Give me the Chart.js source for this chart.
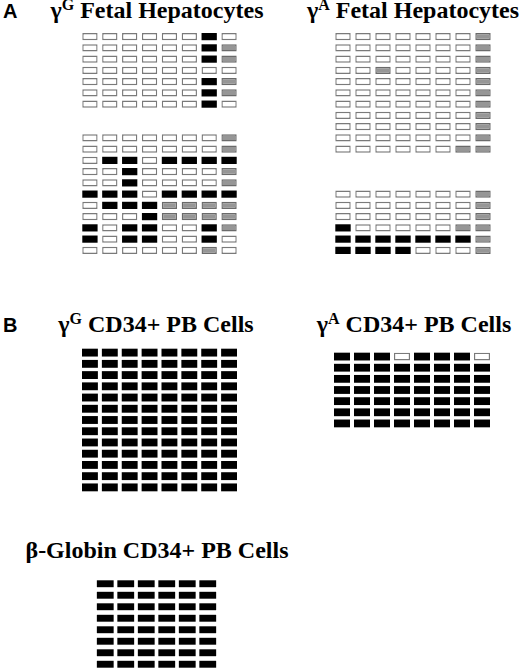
<!DOCTYPE html>
<html>
<head>
<meta charset="utf-8">
<script src="https://cdn.jsdelivr.net/npm/chart.js@4.4.1/dist/chart.umd.min.js"></script>
<style>
  html, body { margin: 0; padding: 0; background: #fff; }
  #fig { position: relative; width: 520px; height: 670px; overflow: hidden; }
  .panel { position: absolute; font-family: "Liberation Sans", Arial, sans-serif; font-weight: bold; font-size: 20px; line-height: 20px; }
  .ttl { position: absolute; width: 320px; text-align: center; font-family: "Liberation Serif", "Times New Roman", serif; font-weight: bold; font-size: 24px; line-height: 24px; white-space: nowrap; }
  .ttl sup { font-size: 16px; vertical-align: 0; position: relative; top: -8px; }
  canvas { position: absolute; }
</style>
</head>
<body>
<div id="fig">
  <div class="panel" style="left:3px;top:1px;">A</div>
  <div class="panel" style="left:3px;top:315px;">B</div>
  <div class="ttl" style="left:-3px;top:-2px;">γ<sup>G</sup> Fetal Hepatocytes</div>
  <div class="ttl" style="left:253px;top:-2px;">γ<sup>A</sup> Fetal Hepatocytes</div>
  <div class="ttl" style="left:-4px;top:312px;">γ<sup>G</sup> CD34+ PB Cells</div>
  <div class="ttl" style="left:254px;top:312px;">γ<sup>A</sup> CD34+ PB Cells</div>
  <div class="ttl" style="left:-3px;top:538px;">β-Globin CD34+ PB Cells</div>
  <canvas id="gGFetal" width="159" height="225" style="left:80px;top:31px;"></canvas>
  <canvas id="gAFetal" width="160" height="225" style="left:333px;top:31px;"></canvas>
  <canvas id="gGCd34" width="159" height="146" style="left:80px;top:347px;"></canvas>
  <canvas id="gACd34" width="160" height="78" style="left:332px;top:351px;"></canvas>
  <canvas id="bCd34" width="123" height="92" style="left:95px;top:578px;"></canvas>
</div>
<script>
// 0 = unmethylated (open), 1 = methylated (black), 2 = grey; "" = gap between clones
const gammaGFetal = [
  "00000010", "00000012", "00000012", "00000000", "00000012", "00000012", "00000010",
  "", "",
  "00000002", "00000002", "01101111", "00100002", "00100002", "11101111",
  "01112222", "00012222", "10110012", "10110010", "00000020"
];
const gammaAFetal = [
  "00000002", "00000002", "00000002", "00200002", "00000002", "00000002",
  "00000002", "00000002", "00000002", "00000002", "00000022",
  "", "", "",
  "00000002", "00000002", "00000002", "10000022", "11111112", "11110002"
];
const gammaGCd34 = [
  "11111111", "11111111", "11111111", "11111111", "11111111", "11111111", "11111111",
  "11111111", "11111111", "11111111", "11111111", "11111111", "11111111"
];
const gammaACd34 = [
  "11101110", "11111111", "11111111", "11111111", "11111111", "11111111", "11111111"
];
const betaCd34 = [
  "111111", "111111", "111111", "111111", "111111", "111111", "111111", "111111"
];

const fills = { "0": "#ffffff", "1": "#000000", "2": "#969696" };
const edges = { "0": "#7a7a7a", "1": "#000000", "2": "#6a6a6a" };

function drawGrid(id, rows, halfH, barPct) {
  const nCols = rows.find(r => r.length).length;
  const cols = Array.from({ length: nCols }, (_, i) => String(i + 1));
  const datasets = [];
  rows.forEach((row, r) => {
    if (!row) return;
    const cells = row.split("");
    datasets.push({
      data: cells.map(() => [r - halfH, r + halfH]),
      backgroundColor: cells.map(c => fills[c]),
      borderColor: cells.map(c => edges[c]),
      borderWidth: cells.map(c => (c === "1" ? 0 : 1.4)),
      borderSkipped: false,
      inflateAmount: 0,
      grouped: false,
      barPercentage: barPct,
      categoryPercentage: 1
    });
  });
  new Chart(document.getElementById(id), {
    type: "bar",
    data: { labels: cols, datasets: datasets },
    options: {
      responsive: false,
      animation: false,
      layout: { padding: 0 },
      plugins: { legend: { display: false }, tooltip: { enabled: false } },
      scales: {
        x: { display: false },
        y: { display: false, reverse: true, min: -0.5, max: rows.length - 0.5 }
      }
    }
  });
}

drawGrid("gGFetal", gammaGFetal, 0.32, 0.77);
drawGrid("gAFetal", gammaAFetal, 0.32, 0.77);
drawGrid("gGCd34", gammaGCd34, 0.35, 0.8);
drawGrid("gACd34", gammaACd34, 0.35, 0.8);
drawGrid("bCd34", betaCd34, 0.3, 0.82);
</script>
</body>
</html>
